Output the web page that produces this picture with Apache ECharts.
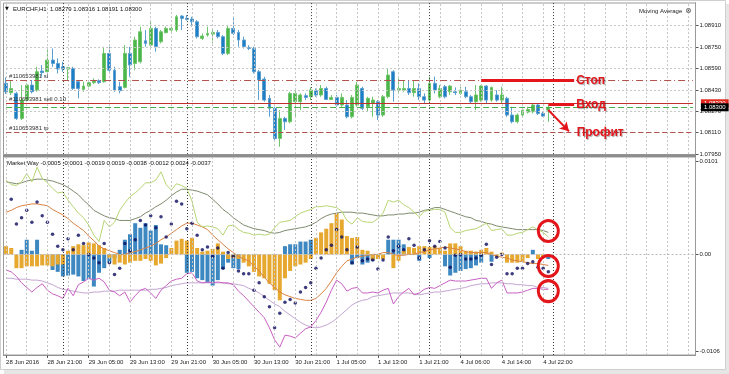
<!DOCTYPE html>
<html><head><meta charset="utf-8">
<script src="https://cdn.jsdelivr.net/npm/echarts@6/dist/echarts.min.js"></script>
<style>html,body{margin:0;padding:0;background:#fff}#c{width:729px;height:374px}</style>
</head><body><div id="c"></div>
<script>
// ---------- DATA ----------
const NSLOTS = 134;                       // visible hourly slots (incl. empty future area)
const slots = Array.from({length: NSLOTS}, (_, i) => String(i));
const tickLabels = ['28 Jun 2016','28 Jun 21:00','29 Jun 05:00','29 Jun 13:00','29 Jun 21:00','30 Jun 05:00','30 Jun 13:00','30 Jun 21:00','1 Jul 05:00','1 Jul 13:00','1 Jul 21:00','4 Jul 06:00','4 Jul 14:00','4 Jul 22:00'];
const labelEvery = 8, gridEvery = 4;
const daySeparators = [11, 35, 59, 82, 106];
const priceTicks = [1.0795, 1.0811, 1.0827, 1.0843, 1.0859, 1.0875, 1.0891];
const wayTicks = [-0.0106, 0, 0.0101];

const open = [1.08479,1.08409,1.08404,1.08217,1.08354,1.08466,1.08429,1.08571,1.08566,1.08653,
1.08628,1.08603,1.08586,1.08591,1.08491,1.08434,1.08459,1.08484,1.08499,1.08491,
1.08703,1.08578,1.08454,1.08449,1.08703,1.08628,1.08641,1.08798,1.08765,1.08890,
1.08790,1.08858,1.08878,1.08878,1.08982,1.08965,1.08960,1.08940,1.08815,1.08840,
1.08848,1.08860,1.08828,1.08703,1.08890,1.08860,1.08803,1.08748,1.08740,1.08566,
1.08511,1.08367,1.08292,1.08067,1.08217,1.08192,1.08342,1.08342,1.08387,1.08379,
1.08424,1.08392,1.08441,1.08359,1.08374,1.08317,1.08317,1.08229,1.08317,1.08441,
1.08304,1.08329,1.08342,1.08242,1.08379,1.08566,1.08429,1.08429,1.08441,1.08409,
1.08441,1.08379,1.08354,1.08479,1.08379,1.08454,1.08416,1.08416,1.08404,1.08416,
1.08379,1.08342,1.08354,1.08459,1.08354,1.08392,1.08354,1.08367,1.08242,1.08192,
1.08242,1.08264,1.08267,1.08317,1.08254,1.08279];
const high = [1.08524,1.08504,1.08416,1.08466,1.08479,1.08504,1.08603,1.08616,1.08728,1.08740,
1.08666,1.08641,1.08603,1.08603,1.08504,1.08491,1.08504,1.08516,1.08509,1.08753,
1.08753,1.08603,1.08491,1.08765,1.08753,1.08828,1.08903,1.08878,1.08952,1.08903,
1.08878,1.08903,1.08903,1.08990,1.08990,1.08990,1.08977,1.08952,1.08853,1.08903,
1.08890,1.08878,1.08840,1.08915,1.08977,1.08878,1.08828,1.08765,1.08753,1.08578,
1.08529,1.08392,1.08304,1.08279,1.08229,1.08416,1.08429,1.08404,1.08404,1.08449,
1.08441,1.08466,1.08454,1.08392,1.08392,1.08404,1.08354,1.08392,1.08491,1.08454,
1.08379,1.08379,1.08354,1.08392,1.08591,1.08578,1.08516,1.08504,1.08504,1.08504,
1.08479,1.08404,1.08529,1.08529,1.08466,1.08466,1.08466,1.08449,1.08454,1.08454,
1.08392,1.08466,1.08466,1.08466,1.08454,1.08429,1.08454,1.08379,1.08304,1.08254,
1.08304,1.08304,1.08329,1.08324,1.08267,1.08316];
const low = [1.08399,1.08392,1.08205,1.08205,1.08342,1.08404,1.08416,1.08529,1.08559,1.08603,
1.08553,1.08566,1.08504,1.08429,1.08367,1.08416,1.08449,1.08474,1.08474,1.08484,
1.08566,1.08416,1.08404,1.08441,1.08529,1.08578,1.08628,1.08753,1.08753,1.08716,
1.08778,1.08853,1.08865,1.08865,1.08878,1.08948,1.08903,1.08815,1.08803,1.08828,
1.08778,1.08815,1.08691,1.08691,1.08840,1.08753,1.08740,1.08728,1.08553,1.08354,
1.08342,1.08229,1.08055,1.08005,1.08130,1.08180,1.08229,1.08279,1.08354,1.08354,
1.08379,1.08379,1.08354,1.08354,1.08304,1.08304,1.08217,1.08217,1.08304,1.08279,
1.08267,1.08229,1.08205,1.08229,1.08367,1.08342,1.08404,1.08416,1.08392,1.08379,
1.08354,1.08329,1.08342,1.08404,1.08367,1.08367,1.08392,1.08392,1.08392,1.08367,
1.08329,1.08279,1.08342,1.08329,1.08342,1.08342,1.08329,1.08229,1.08180,1.08180,
1.08229,1.08254,1.08254,1.08242,1.08229,1.08191];
const close = [1.08416,1.08441,1.08217,1.08354,1.08466,1.08416,1.08566,1.08559,1.08653,1.08628,
1.08586,1.08586,1.08596,1.08441,1.08441,1.08459,1.08484,1.08499,1.08484,1.08703,
1.08578,1.08429,1.08424,1.08703,1.08616,1.08803,1.08865,1.08778,1.08890,1.08753,
1.08865,1.08890,1.08890,1.08977,1.08965,1.08958,1.08940,1.08828,1.08833,1.08853,
1.08860,1.08828,1.08703,1.08890,1.08853,1.08803,1.08753,1.08740,1.08566,1.08504,
1.08354,1.08292,1.08067,1.08217,1.08192,1.08404,1.08404,1.08392,1.08374,1.08429,
1.08392,1.08441,1.08359,1.08374,1.08317,1.08374,1.08229,1.08374,1.08466,1.08292,
1.08367,1.08354,1.08242,1.08379,1.08541,1.08429,1.08441,1.08441,1.08409,1.08441,
1.08379,1.08354,1.08479,1.08429,1.08441,1.08379,1.08459,1.08409,1.08429,1.08379,
1.08342,1.08392,1.08459,1.08354,1.08449,1.08354,1.08392,1.08242,1.08192,1.08242,
1.08279,1.08284,1.08317,1.08254,1.08234,1.08300];

// order levels
const slPrice = 1.0850, sellPrice = 1.0833, bidPrice = 1.0830, tpPrice = 1.0811;

// Market Way indicator buffers
const histOrange = [.0009,.0007,-.0015,-.0015,-.0013,-.0013,-.0013,-.0012,-.0012,-.0013,
-.0011,-.0011,.0004,.0009,.0011,.0010,.0013,.0012,.0010,.0007,
-.0004,-.0011,-.0009,-.0011,-.0009,-.0007,-.0007,-.0005,-.0007,-.0012,
-.0010,-.0004,.0007,.0015,.0017,.0015,.0018,.0007,.0003,.0004,
.0006,.0012,.0003,-.0005,-.0004,-.0005,-.0009,-.0013,-.0019,-.0024,
-.0026,-.0032,-.0039,-.0050,-.0026,-.0018,-.0013,-.0011,-.0009,-.0005,
.0018,.0024,.0028,.0034,.0045,.0038,.0020,.0018,.0019,.0005,
.0004,-.0006,-.0005,-.0005,0,-.0015,-.0007,.0004,.0008,.0007,
.0009,.0009,.0008,.0009,.0007,.0004,.0012,.0012,.0009,.0004,
.0004,.0003,.0005,.0007,.0003,-.0002,.0002,-.0009,-.0009,-.0009,
-.0008,-.0004,0,-.0005,-.0004,-.0001];
const histBlue = [0,0,0,.0005,.0016,.0004,.0016,0,0,-.0017,
-.0019,-.0024,-.0023,-.0022,-.0024,-.0029,-.0027,-.0035,-.0020,-.0015,
-.0009,-.0004,.0005,.0016,.0022,.0034,.0029,.0034,.0026,.0032,
.0011,.0010,0,0,0,-.0020,-.0019,-.0026,-.0028,-.0031,
-.0034,-.0028,-.0016,-.0009,-.0015,-.0016,0,0,0,0,
0,0,0,0,.0009,.0011,.0011,.0014,.0014,.0016,
0,0,0,0,0,0,0,-.0011,-.0004,-.0011,
-.0009,-.0007,-.0004,0,.0016,.0016,.0016,.0011,0,0,
-.0007,0,-.0004,0,0,-.0013,-.0023,-.0020,-.0018,-.0016,
-.0015,-.0012,-.0009,0,-.0008,0,0,0,0,0,
0,0,.0005,0,0,-.0005];
const wayDots = [null,.0060,.0033,.0040,.0048,.0035,.0057,.0042,.0035,.0022,
.0009,.0005,.0017,.0005,.0021,.0012,.0000,-.0004,-.0009,.0012,
-.0009,-.0022,-.0015,.0012,.0004,.0016,.0037,.0032,.0042,.0029,
.0041,.0019,.0033,.0058,.0055,.0028,.0034,.0021,.0005,.0008,
-.0002,.0007,-.0015,.0002,-.0002,-.0018,-.0021,-.0021,-.0039,-.0031,
-.0046,-.0057,-.0080,-.0064,-.0052,-.0049,-.0053,-.0041,-.0036,-.0031,
-.0015,-.0004,.0005,.0010,.0027,.0019,.0005,-.0009,.0008,-.0007,
-.0005,-.0006,-.0016,-.0006,.0019,.0004,.0009,.0005,.0017,.0010,
-.0004,.0005,.0015,.0009,.0014,.0007,-.0014,-.0001,.0000,-.0005,
-.0005,-.0004,-.0001,.0011,-.0011,-.0003,.0000,-.0021,-.0021,-.0015,
-.0015,-.0010,-.0008,-.0014,-.0015,-.0019];
const upperFast = [.0081,.0076,.0075,.0079,.0088,.0079,.0095,.0083,.0078,.0072,
.0067,.0068,.0059,.0052,.0045,.0040,.0032,.0021,.0014,.0037,
.0030,.0035,.0048,.0056,.0063,.0067,.0072,.0078,.0078,.0081,
.0090,.0076,.0070,.0077,.0075,.0072,.0058,.0035,.0030,.0031,
.0030,.0028,.0021,.0031,.0032,.0027,.0024,.0023,.0021,.0022,
.0021,.0022,.0029,.0035,.0036,.0037,.0041,.0045,.0047,.0049,
.0052,.0052,.0053,.0052,.0051,.0047,.0037,.0033,.0040,.0036,
.0035,.0035,.0039,.0045,.0059,.0057,.0059,.0054,.0051,.0046,
.0041,.0047,.0048,.0049,.0049,.0046,.0029,.0024,.0024,.0026,
.0027,.0028,.0031,.0034,.0026,.0027,.0028,.0021,.0021,.0023,
.0024,.0027,.0030,.0027,.0024,.0019];
const lowerFast = [-.0017,-.0019,-.0024,-.0031,-.0036,-.0041,-.0036,-.0032,-.0039,-.0043,
-.0045,-.0048,-.0037,-.0045,-.0033,-.0030,-.0026,-.0028,-.0026,-.0030,
-.0039,-.0041,-.0045,-.0041,-.0052,-.0045,-.0039,-.0037,-.0042,-.0048,
-.0039,-.0034,-.0029,-.0027,-.0026,-.0021,-.0020,-.0029,-.0031,-.0030,
-.0031,-.0030,-.0031,-.0031,-.0033,-.0040,-.0045,-.0051,-.0057,-.0063,
-.0069,-.0080,-.0093,-.0101,-.0088,-.0089,-.0091,-.0086,-.0081,-.0079,
-.0072,-.0063,-.0052,-.0039,-.0028,-.0032,-.0040,-.0037,-.0036,-.0042,
-.0042,-.0041,-.0042,-.0039,-.0037,-.0054,-.0046,-.0041,-.0037,-.0044,
-.0042,-.0038,-.0036,-.0037,-.0034,-.0031,-.0028,-.0029,-.0029,-.0029,
-.0028,-.0027,-.0026,-.0026,-.0037,-.0031,-.0028,-.0042,-.0042,-.0042,
-.0041,-.0039,-.0037,-.0037,-.0038,-.0038];
const midSlow = [.0046,.0048,.0051,.0053,.0054,.0055,.0055,.0054,.0053,.0049,
.0046,.0043,.0039,.0034,.0030,.0026,.0020,.0015,.0009,.0006,
.0004,.0002,.0000,.0000,.0002,.0003,.0005,.0007,.0009,.0012,
.0016,.0019,.0023,.0027,.0031,.0034,.0034,.0032,.0030,.0027,
.0021,.0016,.0011,.0006,.0002,-.0002,-.0005,-.0007,-.0013,-.0018,
-.0025,-.0031,-.0036,-.0041,-.0044,-.0046,-.0048,-.0049,-.0050,-.0050,
-.0048,-.0043,-.0037,-.0029,-.0020,-.0013,-.0007,-.0005,-.0003,-.0002,
-.0001,.0000,.0000,.0002,.0002,.0000,-.0001,-.0001,.0000,.0000,
.0002,.0003,.0005,.0006,.0007,.0008,.0007,.0006,.0005,.0003,
.0002,.0002,.0002,.0002,.0000,-.0002,-.0003,-.0004,-.0006,-.0007,
-.0008,-.0009,-.0010,-.0010,-.0011,-.0012];
const upperSlow = [.0079,.0078,.0077,.0078,.0080,.0081,.0082,.0082,.0081,.0080,
.0078,.0076,.0073,.0069,.0065,.0059,.0054,.0048,.0045,.0042,
.0040,.0039,.0037,.0037,.0037,.0039,.0041,.0045,.0048,.0052,
.0055,.0059,.0064,.0068,.0071,.0071,.0070,.0069,.0067,.0065,
.0060,.0055,.0049,.0045,.0040,.0036,.0032,.0030,.0028,.0027,
.0026,.0024,.0023,.0024,.0026,.0027,.0028,.0029,.0030,.0032,
.0035,.0039,.0042,.0044,.0045,.0046,.0046,.0046,.0045,.0045,
.0044,.0043,.0042,.0042,.0043,.0043,.0044,.0044,.0045,.0045,
.0046,.0048,.0049,.0051,.0051,.0049,.0047,.0045,.0043,.0041,
.0040,.0037,.0036,.0034,.0033,.0031,.0030,.0029,.0028,.0027,
.0027,.0027,.0027,.0027,.0026,.0024];
const lowerSlow = [-.0026,-.0026,-.0027,-.0027,-.0027,-.0028,-.0028,-.0029,-.0031,-.0033,
-.0036,-.0038,-.0039,-.0040,-.0041,-.0042,-.0042,-.0041,-.0041,-.0040,
-.0040,-.0040,-.0039,-.0039,-.0039,-.0039,-.0039,-.0039,-.0038,-.0038,
-.0037,-.0036,-.0034,-.0033,-.0032,-.0031,-.0031,-.0031,-.0031,-.0031,
-.0031,-.0031,-.0031,-.0032,-.0032,-.0033,-.0034,-.0037,-.0039,-.0042,
-.0046,-.0050,-.0054,-.0057,-.0062,-.0066,-.0070,-.0074,-.0077,-.0079,
-.0080,-.0079,-.0077,-.0074,-.0070,-.0065,-.0060,-.0055,-.0052,-.0050,
-.0049,-.0046,-.0045,-.0044,-.0043,-.0042,-.0042,-.0042,-.0042,-.0043,
-.0044,-.0043,-.0042,-.0041,-.0041,-.0040,-.0039,-.0038,-.0037,-.0036,
-.0034,-.0033,-.0032,-.0032,-.0031,-.0031,-.0031,-.0032,-.0032,-.0033,
-.0033,-.0034,-.0034,-.0036,-.0036,-.0037];
const wayHeader = [-0.0005, -0.0001, -0.0019, 0.0019, -0.0038, -0.0012, 0.0024, -0.0037];

// ---------- CHART ----------
const FONT = 'Liberation Sans, Arial, sans-serif';
const RED = '#e3161c';
const LAST = NSLOTS - 1;
const chart = echarts.init(document.getElementById('c'), null, {renderer: 'canvas'});

const gridIdx = [];
for (let i = 0; i < NSLOTS; i += gridEvery) gridIdx.push(i);
const vLines = gridIdx.map(i => ({xAxis: i}))
  .concat(daySeparators.map(i => ({xAxis: i, lineStyle: {color: '#3a3a3a', type: [1, 2], width: 1}})));
// horizontal level across the whole price panel (data-space coordinates)
const hLevel = (v) => [{coord: [0, v]}, {coord: [LAST, v]}];
const hLinesTop = priceTicks.slice(1).map(v => hLevel(v));

const plainX = (grid) => ({
  type: 'category', gridIndex: grid, data: slots, boundaryGap: true,
  axisLine: {show: false}, axisTick: {show: false}, axisLabel: {show: false}, splitLine: {show: false}
});
const lineMark = (data, style) => ({
  silent: true, symbol: ['none', 'none'], animation: false,
  label: {show: false}, lineStyle: style, data: data
});
const orderLine = (v, text, style) => [
  {coord: [0, v], lineStyle: style, label: text ? {show: true, formatter: text} : {show: false}},
  {coord: [LAST, v]}
];
const tagMark = (v, text, bg) => ({
  silent: true, symbol: ['none', 'none'], animation: false,
  lineStyle: {color: 'rgba(0,0,0,0)', width: 0.1},
  label: {show: true, position: 'end', distance: 8, fontSize: 6, color: '#fff',
    backgroundColor: bg, padding: [1, 3, 1, 3], formatter: text},
  data: [[{coord: [LAST - 6, v]}, {coord: [LAST, v]}]]
});

const option = {
  animation: false,
  backgroundColor: '#ffffff',
  textStyle: {fontFamily: FONT},
  grid: [
    {left: 3.5, right: 33.5, top: 3, height: 151.1},
    {left: 3.5, right: 33.5, top: 157, height: 198},
    {left: 3.5, right: 33.5, top: 161.7, height: 190}
  ],
  xAxis: [
    plainX(0),
    Object.assign(plainX(1), {
      axisLine: {show: true, lineStyle: {color: '#8c8c8c'}},
      axisTick: {show: true, alignWithLabel: true, length: 3, lineStyle: {color: '#555'},
        interval: (idx) => idx % labelEvery === 0 && idx / labelEvery < tickLabels.length},
      axisLabel: {show: true, interval: 0, align: 'left', fontSize: 6, color: '#222', margin: 4,
        formatter: (v, idx) => (idx % labelEvery === 0 && tickLabels[idx / labelEvery]) ? tickLabels[idx / labelEvery] : ''}
    }),
    plainX(2)
  ],
  yAxis: [
    {type: 'value', gridIndex: 0, position: 'right', min: 1.0795, max: 1.0908,
      axisLine: {show: true, lineStyle: {color: '#555'}},
      axisTick: {show: true, customValues: priceTicks, length: 3, lineStyle: {color: '#555'}},
      axisLabel: {customValues: priceTicks, formatter: v => v.toFixed(5), fontSize: 6, color: '#222', margin: 4},
      splitLine: {show: false}},
    {type: 'value', gridIndex: 1, position: 'right', min: 0, max: 1,
      axisLine: {show: true, lineStyle: {color: '#555'}}, axisTick: {show: false},
      axisLabel: {show: false}, splitLine: {show: false}},
    {type: 'value', gridIndex: 2, position: 'right', min: -0.0106, max: 0.0101,
      axisLine: {show: false},
      axisTick: {show: true, customValues: wayTicks, length: 3, lineStyle: {color: '#555'}},
      axisLabel: {customValues: wayTicks, formatter: v => v === 0 ? '0.00' : v.toFixed(4), fontSize: 6, color: '#222', margin: 4},
      splitLine: {show: false}}
  ],
  series: [
    // price panel grid
    {type: 'line', xAxisIndex: 0, yAxisIndex: 0, data: [], z: 1,
      markLine: lineMark(vLines.concat(hLinesTop), {color: '#c6c6c6', type: [2, 2], width: 1})},
    // order lines
    {type: 'line', xAxisIndex: 0, yAxisIndex: 0, data: [], z: 2,
      markLine: {silent: true, symbol: ['none', 'none'], animation: false,
        label: {show: true, position: 'insideStartTop', fontSize: 6, color: '#333', distance: [3, 1]},
        data: [
          orderLine(slPrice, '#110653981 sl', {color: '#b5524e', type: [7, 3, 1, 3], width: 1}),
          orderLine(sellPrice, '#110653981 sell 0.10', {color: '#c0302c', type: 'solid', width: 1}),
          orderLine(bidPrice, null, {color: '#48b04a', type: [6, 3], width: 1.2}),
          orderLine(tpPrice, '#110653981 tp', {color: '#b5524e', type: [5, 3], width: 1})
        ]}},
    // right price tags
    {type: 'line', xAxisIndex: 0, yAxisIndex: 0, data: [], z: 7, markLine: tagMark(sellPrice, sellPrice.toFixed(5), '#e2261c')},
    {type: 'line', xAxisIndex: 0, yAxisIndex: 0, data: [], z: 8, markLine: tagMark(bidPrice, close[close.length - 1].toFixed(5), '#000000')},
    // candles
    {type: 'candlestick', name: 'EURCHF,H1', xAxisIndex: 0, yAxisIndex: 0, z: 4, barWidth: 3.4,
      data: open.map((o, i) => [o, close[i], low[i], high[i]]),
      itemStyle: {color: '#4db649', color0: '#1c7ec4', borderColor: '#6fc56b', borderColor0: '#5a9fd0', borderWidth: 1}},
    // annotations (Стоп / Вход / Профит)
    {type: 'line', xAxisIndex: 0, yAxisIndex: 0, data: [], z: 9,
      markLine: {silent: true, animation: false, symbol: ['none', 'none'],
        lineStyle: {color: RED, width: 3, type: 'solid'},
        label: {show: true, position: 'end', distance: 2, color: RED, fontSize: 12, fontWeight: 'bold',
          textShadowColor: 'rgba(0,0,0,0.35)', textShadowOffsetX: 1, textShadowOffsetY: 1, textShadowBlur: 1},
        data: [
          [{coord: [92, slPrice]}, {coord: [110, slPrice], label: {formatter: 'Стоп'}}],
          [{coord: [105, 1.0832]}, {coord: [110, 1.0832], label: {formatter: 'Вход'}}],
          [{coord: [105, 1.0828], symbol: 'none'}, {coord: [109, 1.0812], symbol: 'arrow', symbolSize: [8, 9],
            label: {show: false}, lineStyle: {width: 2}}]
        ]},
      markPoint: {silent: true, animation: false, symbol: 'circle', symbolSize: 1,
        itemStyle: {color: 'rgba(0,0,0,0)'},
        label: {show: true, position: 'right', distance: 2, color: RED, fontSize: 12, fontWeight: 'bold',
          textShadowColor: 'rgba(0,0,0,0.35)', textShadowOffsetX: 1, textShadowOffsetY: 1, textShadowBlur: 1,
          formatter: 'Профит'},
        data: [{coord: [110, tpPrice]}]}},

    // indicator panel frame grid lines
    {type: 'line', xAxisIndex: 1, yAxisIndex: 1, data: [], z: 1,
      markLine: lineMark(vLines, {color: '#c6c6c6', type: [2, 2], width: 1})},
    // zero line
    {type: 'line', xAxisIndex: 2, yAxisIndex: 2, data: [], z: 1,
      markLine: lineMark([{yAxis: 0}], {color: '#b8b8b8', type: [2, 2], width: 1})},
    {type: 'bar', name: 'hist2', xAxisIndex: 2, yAxisIndex: 2, data: histBlue, barWidth: 4, barGap: '-100%',
      itemStyle: {color: '#3d88c0'}, z: 2},
    {type: 'bar', name: 'hist1', xAxisIndex: 2, yAxisIndex: 2, data: histOrange, barWidth: 4, barGap: '-100%',
      itemStyle: {color: '#e6a82f'}, z: 2},
    {type: 'line', name: 'lowerSlow', xAxisIndex: 2, yAxisIndex: 2, data: lowerSlow, showSymbol: false,
      lineStyle: {color: '#c4a6d2', width: 1}, z: 3},
    {type: 'line', name: 'lowerFast', xAxisIndex: 2, yAxisIndex: 2, data: lowerFast, showSymbol: false,
      lineStyle: {color: '#c960c3', width: 1}, z: 3},
    {type: 'line', name: 'midSlow', xAxisIndex: 2, yAxisIndex: 2, data: midSlow, showSymbol: false,
      lineStyle: {color: '#dc8344', width: 1}, z: 3},
    {type: 'line', name: 'upperSlow', xAxisIndex: 2, yAxisIndex: 2, data: upperSlow, showSymbol: false,
      lineStyle: {color: '#7f8b6e', width: 1}, z: 3},
    {type: 'line', name: 'upperFast', xAxisIndex: 2, yAxisIndex: 2, data: upperFast, showSymbol: false,
      lineStyle: {color: '#b7d673', width: 1}, z: 3},
    {type: 'scatter', name: 'dots', xAxisIndex: 2, yAxisIndex: 2, data: wayDots, symbolSize: 3.5,
      itemStyle: {color: '#0b0b5e'}, z: 4},
    // red circles
    {type: 'line', xAxisIndex: 2, yAxisIndex: 2, data: [], z: 9,
      markPoint: {silent: true, animation: false, symbol: 'circle', symbolSize: [20, 21],
        itemStyle: {color: 'rgba(255,255,255,0)', borderColor: RED, borderWidth: 3},
        label: {show: false},
        data: [{coord: [105, 0.00255]}, {coord: [105, -0.00126]}, {coord: [105, -0.0040]}]}}
  ],
  graphic: [
    {type: 'rect', z: -10, shape: {x: 0.5, y: 0.5, width: 725, height: 369}, style: {fill: '#fff', stroke: '#cfcfcf', lineWidth: 1}},
    {type: 'rect', z: -11, shape: {x: 4, y: 4, width: 725, height: 370}, style: {fill: '#e6e6e6'}},
    {type: 'rect', z: 5, shape: {x: 3.5, y: 3, width: 692, height: 151.5}, style: {fill: null, stroke: '#9a9a9a', lineWidth: 1}},
    {type: 'rect', z: 5, shape: {x: 3.5, y: 157, width: 692, height: 198}, style: {fill: null, stroke: '#9a9a9a', lineWidth: 1}},
    {type: 'rect', z: 5, shape: {x: 3, y: 154.5, width: 693, height: 2.5}, style: {fill: '#8d8d8d'}},
    {type: 'text', z: 10, x: 5, y: 9, style: {text: '▼', fontSize: 5, fill: '#111', verticalAlign: 'middle', fontFamily: 'DejaVu Sans'}},
    {type: 'text', z: 10, x: 13, y: 9, style: {text: 'EURCHF,H1  ' + [open, high, low, close].map(a => a[a.length - 1].toFixed(5)).join(' '),
      fontSize: 6, fill: '#111', verticalAlign: 'middle', fontFamily: FONT}},
    {type: 'text', z: 10, x: 639, y: 11, style: {text: 'Moving Average', fontSize: 6, fill: '#222', verticalAlign: 'middle', fontFamily: FONT}},
    {type: 'text', z: 10, x: 685, y: 11, style: {text: '⊗', fontSize: 8, fill: '#555', verticalAlign: 'middle', fontFamily: 'DejaVu Sans'}},
    {type: 'text', z: 10, x: 7, y: 163, style: {text: 'Market Way ' + wayHeader.map(v => v.toFixed(4)).join(' '),
      fontSize: 6, fill: '#111', verticalAlign: 'middle', fontFamily: FONT}}
  ]
};
chart.setOption(option);
</script>
</body></html>
